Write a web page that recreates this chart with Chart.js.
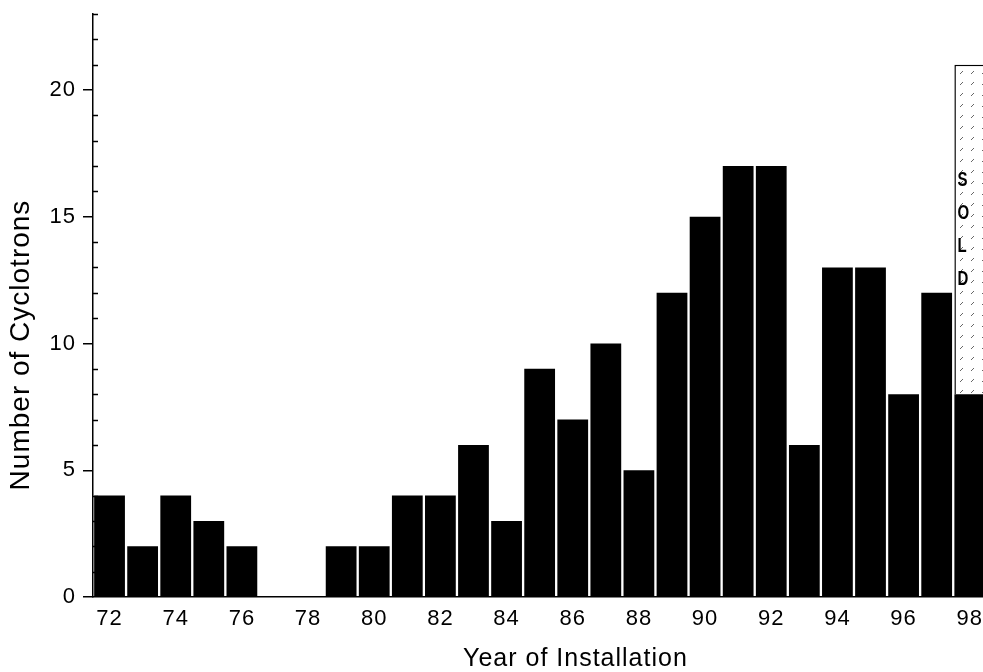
<!DOCTYPE html>
<html>
<head>
<meta charset="utf-8">
<script src="https://cdn.jsdelivr.net/npm/chart.js@4.4.1/dist/chart.umd.min.js"></script>
<style>
  html, body { margin: 0; padding: 0; background: #fff; overflow: hidden; }
  #wrap { width: 992px; height: 672px; }
</style>
</head>
<body>
<div id="wrap"><canvas id="chart" width="992" height="672"></canvas></div>
<script>
// installation year (19xx) and counts
const years = ['72', '73', '74', '75', '76', '77', '78', '79', '80', '81', '82', '83', '84', '85',
  '86', '87', '88', '89', '90', '91', '92', '93', '94', '95', '96', '97', '98'];
const installed = [4, 2, 4, 3, 2, 0, 0, 2, 2, 4, 4, 6, 3, 9, 7, 10, 5, 12, 15, 17, 17, 6, 13, 13, 8, 12, 8];
// already sold for 98, stacked on top of the installed ones
const sold = [0, 0, 0, 0, 0, 0, 0, 0, 0, 0, 0, 0, 0, 0, 0, 0, 0, 0, 0, 0, 0, 0, 0, 0, 0, 0, 13];
const soldText = ['S', 'O', 'L', 'D'];
const yMajor = [0, 5, 10, 15, 20];
const yMax = 23;

const FONT = '"Liberation Sans", Arial, sans-serif';
Chart.defaults.font.family = FONT;
Chart.defaults.color = '#000';

// sparse hatch for the sold part
function hatch() {
  const c = document.createElement('canvas');
  c.width = 11; c.height = 11;
  const g = c.getContext('2d');
  g.fillStyle = '#fff';
  g.fillRect(0, 0, 11, 11);
  g.strokeStyle = '#666';
  g.lineWidth = 1;
  g.beginPath();
  g.moveTo(3, 8);
  g.lineTo(6, 5);
  g.stroke();
  return g.createPattern(c, 'repeat');
}

const extras = {
  id: 'extras',
  beforeLayout(chart) { chart.ctx.letterSpacing = '1px'; },
  beforeDraw(chart) { chart.ctx.letterSpacing = '1px'; },
  afterDatasetsDraw(chart) {
    const { ctx, chartArea, scales: { y } } = chart;
    ctx.save();
    // minor ticks inside the axis
    ctx.strokeStyle = '#000';
    ctx.lineWidth = 1.5;
    for (let v = y.min; v <= y.max; v++) {
      if (v % 5 === 0) continue;
      const py = Math.round(y.getPixelForValue(v)) + 0.5;
      ctx.beginPath();
      ctx.moveTo(chartArea.left, py);
      ctx.lineTo(chartArea.left + 5, py);
      ctx.stroke();
    }
    // SOLD written down the hatched bar
    const el = chart.getDatasetMeta(1).data[years.length - 1];
    const left = el.x - el.width / 2;
    const mid = (el.y + el.base) / 2;
    ctx.font = 'bold 15px ' + FONT;
    ctx.fillStyle = '#000';
    ctx.textAlign = 'left';
    ctx.textBaseline = 'middle';
    ctx.letterSpacing = '0px';
    soldText.forEach((ch, i) => {
      ctx.save();
      ctx.translate(left + 3, mid + (i - 1.5) * 33);
      ctx.scale(1, 1.35);
      ctx.fillText(ch, 0, 0);
      ctx.restore();
    });
    ctx.restore();
  }
};

new Chart(document.getElementById('chart'), {
  type: 'bar',
  data: {
    labels: years,
    datasets: [
      {
        data: installed,
        backgroundColor: '#000',
        borderWidth: 0,
        barPercentage: 0.93,
        categoryPercentage: 1
      },
      {
        data: sold,
        backgroundColor: hatch(),
        borderColor: '#000',
        borderWidth: { top: 1.5, left: 1.5, right: 1.5, bottom: 0 },
        barPercentage: 0.93,
        categoryPercentage: 1
      }
    ]
  },
  options: {
    responsive: false,
    animation: false,
    layout: { padding: { top: 14, right: 0, bottom: 0, left: 0 } },
    plugins: { legend: { display: false }, tooltip: { enabled: false } },
    scales: {
      x: {
        stacked: true,
        offset: true,
        grid: { display: false, drawTicks: false },
        border: { display: true, color: '#000', width: 1.5 },
        ticks: {
          autoSkip: false,
          maxRotation: 0,
          padding: 9,
          font: { size: 22 },
          callback: (v, i) => (i % 2 === 0 ? years[i] : null)
        },
        title: {
          display: true,
          text: '         Year of Installation',
          font: { size: 25, lineHeight: 1 },
          padding: { top: 0, bottom: 0 }
        },
        afterFit: s => { s.height = 75; }
      },
      y: {
        stacked: true,
        min: 0,
        max: yMax,
        grid: { drawOnChartArea: false, drawTicks: true, tickLength: 10, color: '#000', lineWidth: 1.5 },
        border: { display: true, color: '#000', width: 1.5 },
        ticks: {
          stepSize: 5,
          padding: 7,
          font: { size: 22 },
          callback: v => (yMajor.includes(v) ? v : null)
        },
        title: {
          display: true,
          text: 'Number of Cyclotrons         ',
          font: { size: 28 },
          padding: { top: 4, bottom: 0 }
        },
        afterFit: s => { s.width = 93; s.paddingTop = 0; s.paddingBottom = 0; }
      }
    }
  },
  plugins: [extras]
});
</script>
</body>
</html>
